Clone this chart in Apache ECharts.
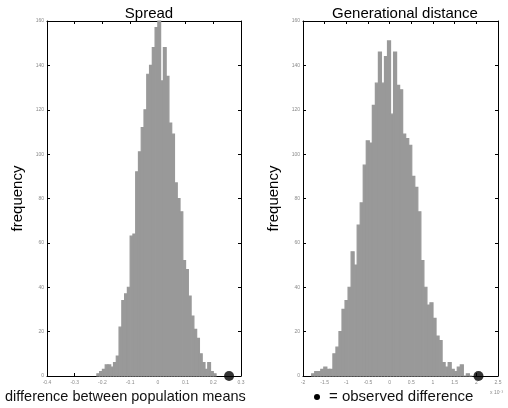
<!DOCTYPE html>
<html>
<head>
<meta charset="utf-8">
<script src="https://cdn.jsdelivr.net/npm/echarts@6/dist/echarts.min.js"></script>
<style>
  html, body { margin: 0; padding: 0; background: #fff; }
  #chart { width: 508px; height: 408px; }
</style>
</head>
<body>
<div id="chart"></div>
<script>
// Spread: histogram of differences (bins of 0.01 starting at -0.22)
const spreadBinStart = -0.22
const spreadBinWidth = 0.01
const spreadCounts = [1, 2, 3, 5, 5, 4, 6, 9, 22, 34, 37, 40, 63, 64, 92, 101, 112, 120, 136, 140,
  148, 157, 160, 133, 148, 135, 114, 109, 87, 80, 74, 52, 48, 36, 27, 21, 17, 10, 6, 3, 6, 2, 1]
const spreadObserved = 0.257

// Generational distance (x 10^-3): bins of 0.07 starting at -1.80
const gdBinStart = -1.8
const gdBinWidth = 0.07
const gdCounts = [1, 2, 2, 3, 4, 3, 3, 10, 13, 20, 30, 34, 40, 56, 50, 68, 78, 95, 106, 105,
  122, 132, 146, 132, 144, 151, 118, 146, 131, 129, 109, 107, 104, 90, 85, 74, 52, 40, 32, 33,
  26, 18, 16, 6, 4, 6, 3, 2, 4, 5, 0, 1, 0]
const gdObserved = 2.05

const spreadTicks = { min: -0.4, max: 0.3, interval: 0.1 }
const gdTicks = { min: -2, max: 2.5, interval: 0.5 }
const freqTicks = { min: 0, max: 160, interval: 20 }

const font = '"Liberation Sans", Arial, sans-serif'

function bins(start, width, counts) {
  return counts.map((c, i) => [start + i * width, start + (i + 1) * width, c])
}

const chart = echarts.init(document.getElementById('chart'), null, { renderer: 'canvas' })

const tickLabel = { fontSize: 5, color: '#8a8a8a', fontFamily: font }

function xAx(grid, t, pos, showLabel) {
  return {
    type: 'value', gridIndex: grid, position: pos,
    min: t.min, max: t.max, interval: t.interval,
    axisLine: { show: true, onZero: false, lineStyle: { color: '#000', width: 1 } },
    axisTick: { show: true, inside: true, length: 3, lineStyle: { color: '#000' } },
    axisLabel: Object.assign({ show: showLabel, margin: 4 }, tickLabel),
    splitLine: { show: false }
  }
}
function yAx(grid, pos, showLabel, name) {
  return {
    type: 'value', gridIndex: grid, position: pos,
    min: freqTicks.min, max: freqTicks.max, interval: freqTicks.interval,
    name: name || '', nameLocation: 'middle', nameGap: 22,
    nameTextStyle: { fontSize: 15, color: '#000', fontFamily: font },
    axisLine: { show: true, onZero: false, lineStyle: { color: '#000', width: 1 } },
    axisTick: { show: true, inside: true, length: 3, lineStyle: { color: '#000' } },
    axisLabel: Object.assign({ show: showLabel, margin: 3 }, tickLabel),
    splitLine: { show: false }
  }
}

function renderBar(params, api) {
  const p0 = api.coord([api.value(0), api.value(2)])
  const p1 = api.coord([api.value(1), 0])
  return {
    type: 'rect',
    shape: { x: p0[0], y: p0[1], width: p1[0] - p0[0], height: p1[1] - p0[1] },
    style: { fill: '#999999', stroke: '#999999', lineWidth: 1.2 }
  }
}

const option = {
  animation: false,
  backgroundColor: '#fff',
  title: [
    { text: 'Spread', left: 144, top: 1, textAlign: 'center',
      textStyle: { fontSize: 15, fontWeight: 'normal', color: '#000', fontFamily: font } },
    { text: 'Generational distance', left: 400, top: 1, textAlign: 'center',
      textStyle: { fontSize: 15, fontWeight: 'normal', color: '#000', fontFamily: font } }
  ],
  grid: [
    { left: 47, right: 267, top: 21, bottom: 32 },
    { left: 303, right: 10, top: 21, bottom: 32 }
  ],
  xAxis: [
    xAx(0, spreadTicks, 'bottom', true),
    xAx(0, spreadTicks, 'top', false),
    xAx(1, gdTicks, 'bottom', true),
    xAx(1, gdTicks, 'top', false)
  ],
  yAxis: [
    yAx(0, 'left', true, 'frequency'),
    yAx(0, 'right', false),
    yAx(1, 'left', true, 'frequency'),
    yAx(1, 'right', false)
  ],
  graphic: [
    { type: 'text', left: 5, top: 389,
      style: { text: 'difference between population means', fill: '#111', font: '14.5px ' + font } },
    { type: 'circle', shape: { cx: 317, cy: 397, r: 3 }, style: { fill: '#000' } },
    { type: 'text', left: 329, top: 389,
      style: { text: '= observed difference', fill: '#111', font: '15px ' + font } },
    { type: 'text', left: 490, top: 390,
      style: { text: 'x 10\u207B\u00B3', fill: '#8a8a8a', font: '5px ' + font } }
  ],
  series: [
    { type: 'custom', xAxisIndex: 0, yAxisIndex: 0, renderItem: renderBar,
      encode: { x: [0, 1], y: 2 }, data: bins(spreadBinStart, spreadBinWidth, spreadCounts) },
    { type: 'custom', xAxisIndex: 2, yAxisIndex: 2, renderItem: renderBar,
      encode: { x: [0, 1], y: 2 }, data: bins(gdBinStart, gdBinWidth, gdCounts) },
    { type: 'scatter', xAxisIndex: 0, yAxisIndex: 0, symbolSize: 10, clip: false,
      itemStyle: { color: '#000' }, data: [[spreadObserved, 0]] },
    { type: 'scatter', xAxisIndex: 2, yAxisIndex: 2, symbolSize: 10, clip: false,
      itemStyle: { color: '#000' }, data: [[gdObserved, 0]] }
  ]
}

chart.setOption(option)
</script>
</body>
</html>
